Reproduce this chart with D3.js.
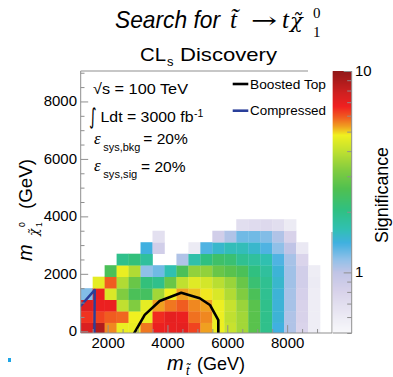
<!DOCTYPE html>
<html>
<head>
<meta charset="utf-8">
<script src="https://cdn.jsdelivr.net/npm/d3@7"></script>
<style>
  html, body { margin: 0; padding: 0; background: #fff; }
  svg { display: block; }
  text { font-family: "Liberation Sans", Arial, sans-serif; fill: #000; }
</style>
</head>
<body>
<svg id="chart" width="393" height="377"></svg>
<script>
// Bin centres of the (stop mass, neutralino mass) grid, GeV
const stopMass = [1300, 1700, 2100, 2500, 2900, 3300, 3700, 4100, 4500, 4900, 5300,
                  5700, 6100, 6500, 6900, 7300, 7700, 8100, 8500, 8900, 9300];
const lspMass = [100, 500, 900, 1300, 1700, 2100, 2500, 2900, 3300, 3700];
const binWidth = 400;

// Discovery significance per bin, one row per neutralino mass (null = no point)
const _ = null;
const significance = [
  [7.4, 8.8, 5.5, 4.7, 4.7, 5.65, 6.8, 6.9, 7.0, 6.2, 5.3, 4.75, 4.1, 3.6, 2.7, 1.95, 1.4, 1.05, 0.78, 0.58, _],
  [6.4, 6.2, 5.9, 5.8, 4.8, 4.7, 6.5, 7.0, 6.8, 5.7, 5.5, 4.75, 4.0, 3.6, 2.7, 1.95, 1.45, 1.05, 0.8, 0.58, _],
  [7.2, 6.8, 6.8, 4.0, 3.2, 4.6, 5.3, 5.65, 5.9, 5.5, 5.3, 4.75, 4.1, 3.5, 2.7, 1.95, 1.45, 1.08, 0.8, 0.58, _],
  [1.2, 6.8, 4.4, 3.2, 2.5, 2.4, 3.6, 4.8, 5.3, 5.1, 4.85, 4.4, 3.8, 3.2, 2.5, 1.9, 1.45, 1.08, 0.82, 0.58, _],
  [_, 4.6, 5.9, 3.8, 2.9, 2.1, 1.95, 2.9, 4.0, 4.5, 4.3, 3.9, 3.5, 2.9, 2.2, 1.9, 1.5, 1.1, 0.85, 0.6, _],
  [_, _, 2.5, 4.7, 3.8, 1.16, 1.25, 1.65, 2.5, 3.4, 3.4, 2.9, 2.7, 2.5, 2.05, 1.8, 1.45, 1.1, 0.85, 0.58, _],
  [_, _, _, 1.95, 2.1, 1.8, _, _, 1.05, 1.7, 2.05, 2.3, 2.2, 1.9, 1.8, 1.65, 1.35, 1.08, 0.78, _, _],
  [_, _, _, _, _, 1.4, 0.85, _, _, 0.6, 1.35, 1.5, 1.6, 1.6, 1.5, 1.35, 1.16, 1.0, 0.62, _, _],
  [_, _, _, _, _, _, 0.68, _, _, _, _, 0.85, 1.05, 1.25, 1.25, 1.2, 1.05, 0.8, _, _, _],
  [_, _, _, _, _, _, _, _, _, _, _, _, _, 0.7, 0.72, 0.74, 0.7, 0.6, _, _, _]
];

// Exclusion-style contours (stop mass, neutralino mass)
const boostedTop = [[2880, -80], [3240, 570], [3740, 1055], [4460, 1343], [5080, 1150],
                    [5420, 915], [5700, 390], [5700, -80]];
const compressed = [[1080, 860], [1570, 1440], [1558, -80]];

// Axis ticks
const xMajor = [2000, 4000, 6000, 8000];
const xMinor = [1500, 2500, 3000, 3500, 4500, 5000, 5500, 6500, 7000, 7500, 8500, 9000];
const yMajor = [0, 2000, 4000, 6000, 8000];
const yMinor = [500, 1000, 1500, 2500, 3000, 3500, 4500, 5000, 5500, 6500, 7000, 7500, 8500, 9000];
const zMajor = [1, 10];
const zMinor = [0.5, 0.6, 0.7, 0.8, 0.9, 2, 3, 4, 5, 6, 7, 8, 9];

// Colour palette along the significance axis
const paletteZ = [0.5, 0.6, 0.8, 1.0, 1.16, 1.4, 1.65, 2.05, 2.6, 3.2, 4.0, 4.8, 5.3, 5.85, 6.65, 7.75, 10];
const paletteC = ["#f8f8fb", "#ecebf4", "#d8d2ea", "#c0c4e6", "#90c0e8", "#40b0e0", "#30c0b0", "#30c080",
                  "#50c050", "#80cc40", "#c0e030", "#f0f020", "#f0a020", "#f06020", "#f02020", "#d02020", "#901818"];

const svg = d3.select("#chart");
const frame = { left: 80.7, right: 332, top: 71, bottom: 333 };

const x = d3.scaleLinear().domain([1100, 9500]).range([frame.left, frame.right]);
const y = d3.scaleLinear().domain([-60, 9060]).range([frame.bottom, frame.top]);
const zPos = d3.scaleLog().domain([0.5, 10]).range([frame.bottom, frame.top]);
const color = d3.scaleLog().domain(paletteZ).range(paletteC)
  .interpolate(d3.interpolateRgb).clamp(true);

svg.append("defs").append("clipPath").attr("id", "plotClip")
  .append("rect")
  .attr("x", frame.left).attr("y", frame.top)
  .attr("width", frame.right - frame.left).attr("height", frame.bottom - frame.top);

// Heat map cells
const cells = [];
significance.forEach((row, j) => row.forEach((v, i) => {
  if (v !== null) cells.push({ mx: stopMass[i], my: lspMass[j], v });
}));
const plot = svg.append("g").attr("clip-path", "url(#plotClip)");
plot.selectAll("rect.cell").data(cells).join("rect")
  .attr("class", "cell")
  .attr("x", d => x(d.mx - binWidth / 2))
  .attr("y", d => y(d.my + binWidth / 2))
  .attr("width", d => x(d.mx + binWidth / 2) - x(d.mx - binWidth / 2) + 0.3)
  .attr("height", d => y(d.my - binWidth / 2) - y(d.my + binWidth / 2) + 0.3)
  .attr("fill", d => color(d.v));

// Contours
const line = d3.line().x(d => x(d[0])).y(d => y(d[1]));
plot.append("path").attr("d", line(boostedTop))
  .attr("fill", "none").attr("stroke", "#000").attr("stroke-width", 2.6)
  .attr("stroke-linejoin", "round");
plot.append("path").attr("d", line(compressed))
  .attr("fill", "none").attr("stroke", "#2a3f9a").attr("stroke-width", 2.4)
  .attr("stroke-linejoin", "round");

// Frame (the legend box hides the top-right corner)
const frameColor = "#8f8f8f";
const fr = svg.append("g").attr("stroke", frameColor).attr("stroke-width", 1);
fr.append("line").attr("x1", frame.left).attr("x2", frame.left).attr("y1", frame.top).attr("y2", frame.bottom);
fr.append("line").attr("x1", frame.left).attr("x2", frame.right).attr("y1", frame.bottom).attr("y2", frame.bottom);
fr.append("line").attr("x1", frame.left).attr("x2", 308).attr("y1", frame.top).attr("y2", frame.top);
fr.append("line").attr("x1", frame.right).attr("x2", frame.right).attr("y1", 232).attr("y2", frame.bottom);

// Axes: ticks point into the frame
function styleAxis(g) {
  g.select(".domain").remove();
  g.selectAll(".tick line").attr("stroke", frameColor);
  g.selectAll(".tick text").attr("font-size", 14).attr("fill", "#000")
    .attr("font-family", "Liberation Sans, Arial, sans-serif");
}
svg.append("g").attr("transform", `translate(0,${frame.bottom})`)
  .call(d3.axisBottom(x).tickValues(xMajor).tickSize(-7.9).tickPadding(5).tickFormat(d3.format("d")))
  .call(styleAxis)
  .call(g => g.selectAll(".tick text").attr("transform", "scale(1.07,1)"));
svg.append("g").attr("transform", `translate(0,${frame.bottom})`)
  .call(d3.axisBottom(x).tickValues(xMinor).tickSize(-4).tickFormat(""))
  .call(styleAxis);
svg.append("g").attr("transform", `translate(${frame.left},0)`)
  .call(d3.axisLeft(y).tickValues(yMajor).tickSize(-7.5).tickPadding(3.5).tickFormat(d3.format("d")))
  .call(styleAxis)
  .call(g => g.selectAll(".tick text").attr("transform", "scale(1.07,1)"));
svg.append("g").attr("transform", `translate(${frame.left},0)`)
  .call(d3.axisLeft(y).tickValues(yMinor).tickSize(-3.8).tickFormat(""))
  .call(styleAxis);

// Colour bar
const cb = { x0: 332.7, x1: 351.7 };
const slices = d3.range(frame.top, frame.bottom, 1);
svg.append("g").selectAll("rect").data(slices).join("rect")
  .attr("x", cb.x0).attr("width", cb.x1 - cb.x0)
  .attr("y", d => d).attr("height", 1.2)
  .attr("fill", d => color(zPos.invert(d + 0.5)));
svg.append("line").attr("x1", cb.x1).attr("x2", cb.x1).attr("y1", frame.top).attr("y2", frame.bottom)
  .attr("stroke", frameColor);
svg.append("line").attr("x1", cb.x0).attr("x2", cb.x1).attr("y1", frame.bottom).attr("y2", frame.bottom)
  .attr("stroke", frameColor);
svg.append("g").attr("transform", `translate(${cb.x1},0)`)
  .call(d3.axisRight(zPos).tickValues(zMajor).tickSize(-8).tickPadding(3).tickFormat(d3.format("d")))
  .call(styleAxis)
  .call(g => g.selectAll(".tick text").attr("transform", "scale(1.07,1)"));
svg.append("g").attr("transform", `translate(${cb.x1},0)`)
  .call(d3.axisRight(zPos).tickValues(zMinor).tickSize(-4.5).tickFormat(""))
  .call(styleAxis);

// Colour bar title
svg.append("text").attr("transform", "translate(388,195) rotate(-90)")
  .attr("text-anchor", "middle").attr("font-size", 18)
  .attr("textLength", 96).attr("lengthAdjust", "spacingAndGlyphs")
  .text("Significance");

// Titles
svg.append("text").attr("x", 115).attr("y", 28)
  .attr("font-family", "Lato, 'Open Sans', sans-serif").attr("font-style", "italic")
  .attr("font-size", 24).attr("textLength", 105).attr("lengthAdjust", "spacingAndGlyphs")
  .text("Search for");
const serif = "'Liberation Serif', 'DejaVu Serif', serif";
const dvSerif = "'DejaVu Serif', serif";
const mathT = svg.append("g");
// stop with tilde accent (combining character)
mathT.append("text").attr("x", 230).attr("y", 28).attr("font-size", 25).attr("font-style", "italic")
  .style("font-family", serif).text("t\u0303");
mathT.append("text").attr("x", 251).attr("y", 28).attr("font-size", 22)
  .attr("textLength", 26).attr("lengthAdjust", "spacingAndGlyphs")
  .style("font-family", dvSerif).text("\u2192");
mathT.append("text").attr("x", 282).attr("y", 28).attr("font-size", 25).attr("font-style", "italic")
  .style("font-family", serif).text("t");
// neutralino with tilde accent
mathT.append("text").attr("x", 290).attr("y", 28).attr("font-size", 21).attr("font-style", "italic")
  .style("font-family", dvSerif).text("\u03C7\u0303");
mathT.append("text").attr("x", 313).attr("y", 18).attr("font-size", 15)
  .style("font-family", serif).text("0");
mathT.append("text").attr("x", 313).attr("y", 37).attr("font-size", 15)
  .style("font-family", serif).text("1");

svg.append("text").attr("x", 140).attr("y", 61).attr("font-size", 19)
  .attr("textLength", 26).attr("lengthAdjust", "spacingAndGlyphs").text("CL");
svg.append("text").attr("x", 167).attr("y", 66).attr("font-size", 13).text("s");
svg.append("text").attr("x", 180).attr("y", 61).attr("font-size", 19)
  .attr("textLength", 97).attr("lengthAdjust", "spacingAndGlyphs").text("Discovery");

// Annotation block
svg.append("text").attr("x", 93).attr("y", 93.5).attr("font-size", 15)
  .attr("textLength", 95).attr("lengthAdjust", "spacingAndGlyphs").text("\u221As = 100 TeV");
svg.append("text").attr("x", 89).attr("y", 124).attr("font-size", 22)
  .attr("textLength", 7.5).attr("lengthAdjust", "spacingAndGlyphs")
  .style("font-family", "'DejaVu Sans', sans-serif").text("\u222B");
svg.append("text").attr("x", 100.5).attr("y", 122).attr("font-size", 15)
  .attr("textLength", 93).attr("lengthAdjust", "spacingAndGlyphs").text("Ldt = 3000 fb");
svg.append("text").attr("x", 194).attr("y", 117).attr("font-size", 10.5).text("-1");

const eps = [
  { y: 144.3, sub: "sys,bkg", subLen: 37, eqX: 143.3 },
  { y: 171.7, sub: "sys,sig", subLen: 34, eqX: 141 }
];
eps.forEach(e => {
  svg.append("text").attr("x", 94).attr("y", e.y - 0.5).attr("font-size", 17).attr("font-style", "italic")
    .style("font-family", serif).text("\u03B5");
  svg.append("text").attr("x", 103.3).attr("y", e.y + 6.2).attr("font-size", 11)
    .attr("textLength", e.subLen).attr("lengthAdjust", "spacingAndGlyphs").text(e.sub);
  svg.append("text").attr("x", e.eqX).attr("y", e.y).attr("font-size", 15)
    .attr("textLength", 44.5).attr("lengthAdjust", "spacingAndGlyphs").text("= 20%");
});

// Legend
const legend = [
  { label: "Boosted Top", color: "#000", y: 84 },
  { label: "Compressed", color: "#2a3f9a", y: 110.7 }
];
legend.forEach(l => {
  svg.append("line").attr("x1", 232.7).attr("x2", 248.3).attr("y1", l.y).attr("y2", l.y)
    .attr("stroke", l.color).attr("stroke-width", 2.6);
  svg.append("text").attr("x", 250).attr("y", l.y + 4.6).attr("font-size", 13.5)
    .attr("textLength", 76).attr("lengthAdjust", "spacingAndGlyphs").text(l.label);
});

// Axis titles
svg.append("text").attr("x", 167).attr("y", 370).attr("font-size", 20).attr("font-style", "italic").text("m");
svg.append("text").attr("x", 186).attr("y", 375).attr("font-size", 12).attr("font-style", "italic").text("t\u0303");
svg.append("text").attr("x", 197).attr("y", 370).attr("font-size", 19)
  .attr("textLength", 48).attr("lengthAdjust", "spacingAndGlyphs").text("(GeV)");

const yt = svg.append("g").attr("transform", "translate(31.5,261) rotate(-90)");
yt.append("text").attr("x", 0).attr("y", 0).attr("font-size", 20).attr("font-style", "italic").text("m");
yt.append("text").attr("x", 25).attr("y", 6).attr("font-size", 12).attr("font-style", "italic")
  .style("font-family", dvSerif).text("\u03C7\u0303");
yt.append("text").attr("x", 34).attr("y", -7).attr("font-size", 8.5).text("0");
yt.append("text").attr("x", 34).attr("y", 10).attr("font-size", 8.5).text("1");
yt.append("text").attr("x", 52).attr("y", 0).attr("font-size", 19)
  .attr("textLength", 50).attr("lengthAdjust", "spacingAndGlyphs").text("(GeV)");

// Slide bullet mark
svg.append("rect").attr("x", 8).attr("y", 358).attr("width", 3).attr("height", 4).attr("fill", "#1ea6e6");
</script>
</body>
</html>
